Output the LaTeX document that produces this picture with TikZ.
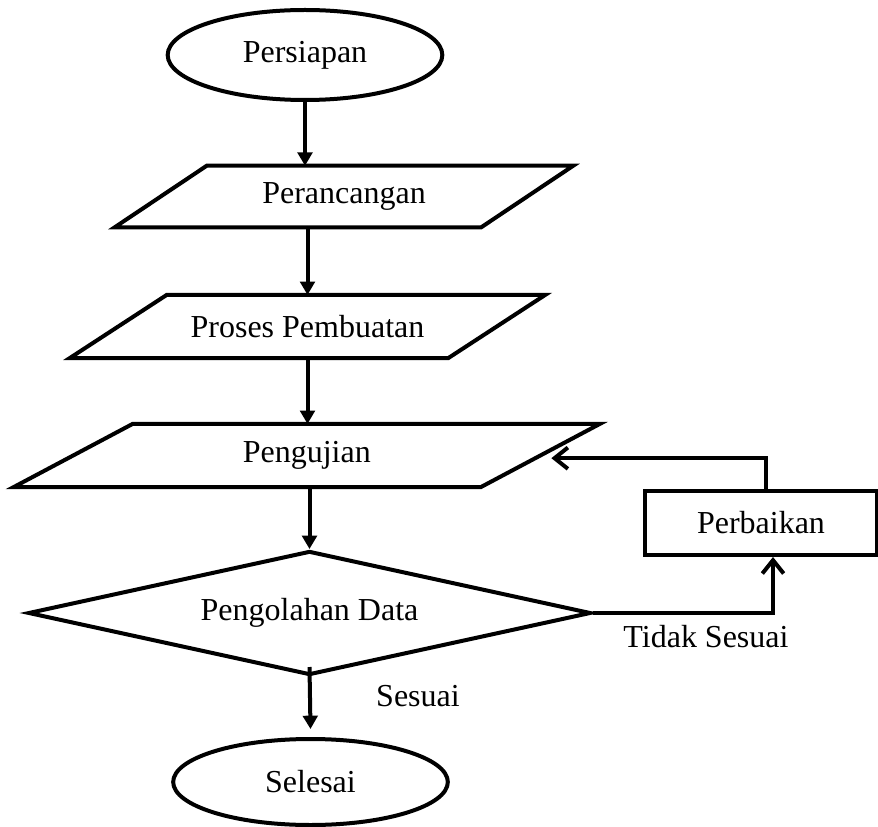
\documentclass[tikz,border=0pt]{standalone}
\usepackage{fontspec}
\setmainfont{Liberation Serif}
\usetikzlibrary{shapes.geometric,arrows.meta}

\begin{document}
\begin{tikzpicture}[x=0.75pt,y=-0.75pt,
    every node/.style={font=\fontsize{24}{28}\selectfont},
    garis/.style={line width=3pt},
    terminal/.style={ellipse,draw,garis,inner sep=0pt,minimum width=206pt},
    jajar/.style={rectangle,inner sep=0pt,minimum height=47pt},
    keputusan/.style={diamond,draw,garis,aspect=4.5,inner sep=0pt,minimum width=422pt,minimum height=93pt},
    kotak/.style={rectangle,draw,garis,minimum width=174pt,minimum height=48pt},
    panah/.style={garis,-{Triangle[length=10pt,width=11pt]}},
    balik/.style={garis,-{Straight Barb[length=10pt,width=16pt]}}]
  \useasboundingbox (0,0) rectangle (878,827);

  \node[terminal,minimum height=67.5pt] (pers) at (305,55) {Persiapan};
  \node[jajar,minimum width=274.5pt,minimum height=45.75pt] (peran) at (344,196.5) {Perancangan};
  \node[jajar,minimum width=283.5pt] (proses) at (307.5,326.5) {Proses Pembuatan};
  \node[jajar,minimum width=350pt] (uji) at (306.75,455.5) {Pengujian};
  \node[keputusan] (olah) at (309.5,613) {Pengolahan Data};
  \node[terminal,minimum height=64.5pt] (sel) at (310.5,782) {Selesai};
  \node[kotak] (baik) at (761,523) {Perbaikan};

  % jajaran genjang
  \foreach \n/\s in {peran/46,proses/48.5,uji/59.5}
    \draw[garis] ([shift={(\s,0)}]\n.north west) -- ([shift={(\s,0)}]\n.north east)
      -- ([shift={(-\s,0)}]\n.south east) -- ([shift={(-\s,0)}]\n.south west) -- cycle;

  % alur utama
  \draw[panah] (pers.south) -- (pers.south |- peran.north);
  \draw[panah] (proses.north |- peran.south) -- (proses.north);
  \draw[panah] (proses.south) -- (proses.south |- uji.north);
  \draw[panah] (olah.north |- uji.south) -- (olah.north);
  \draw[panah] ([yshift=7.5pt]olah.south) -- ([yshift=6pt]sel.north);

  % perbaikan
  \draw[balik] (olah.east) -| ([xshift=9pt]baik.south);
  \draw[balik] ([xshift=3.75pt]baik.north) |- ([xshift=8.25pt,yshift=-2pt]uji.east);

  \node (tidak) at (706,637) {Tidak Sesuai};
  \node (sesuai) at (418,696) {Sesuai};
\end{tikzpicture}
\end{document}
